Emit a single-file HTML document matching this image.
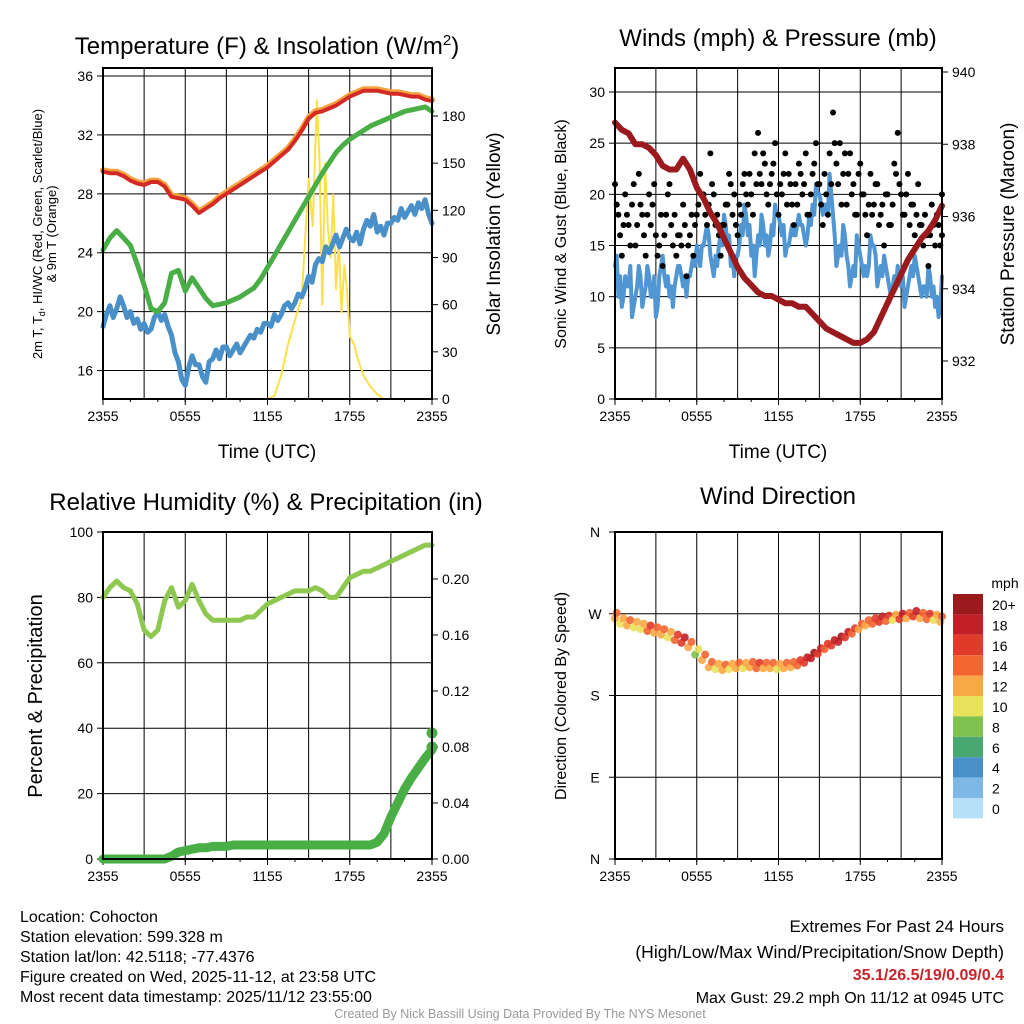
<!DOCTYPE html>
<html><head><meta charset="utf-8"><style>
body{margin:0;background:#fff;}
svg{display:block;font-family:"Liberation Sans",sans-serif;}
</style></head><body>
<svg id="s" width="1024" height="1024" viewBox="0 0 1024 1024"></svg>
<script>
// ---- data (hours since 2355 UTC) ----
const timeTicks=["2355","0555","1155","1755","2355"];
const hHalf=[0,0.5,1,1.5,2,2.5,3,3.5,4,4.5,5,5.5,6,6.5,7,7.5,8,8.5,9,9.5,10,10.5,11,11.5,12,12.5,13,13.5,14,14.5,15,15.5,16,16.5,17,17.5,18,18.5,19,19.5,20,20.5,21,21.5,22,22.5,23,23.5,24];
const tempF=[29.5,29.4,29.4,29.2,28.9,28.7,28.6,28.8,28.8,28.5,27.8,27.7,27.6,27.2,26.7,27.0,27.3,27.7,28.0,28.3,28.6,28.9,29.2,29.5,29.8,30.2,30.6,31.0,31.6,32.3,33.1,33.5,33.6,33.8,34.0,34.3,34.6,34.8,35.0,35.0,35.0,34.9,34.8,34.8,34.7,34.6,34.6,34.4,34.3];
const dewF=[24.2,25.0,25.5,25.0,24.5,23.2,21.8,20.2,20.0,20.6,22.6,22.8,21.4,22.3,21.6,20.9,20.4,20.5,20.6,20.8,21.0,21.3,21.6,22.2,23.0,23.8,24.6,25.4,26.2,27.0,27.8,28.6,29.4,30.1,30.8,31.3,31.7,32.0,32.3,32.6,32.8,33.0,33.2,33.4,33.6,33.7,33.8,33.9,33.6];
const hQuarter=[];for(let i=0;i<=96;i++)hQuarter.push(i*0.25);
const chillF=[19.0,19.8,20.4,19.6,20.2,21.0,20.4,19.6,20.0,19.2,19.5,18.8,19.2,18.6,18.8,19.6,20.0,19.4,19.8,19.0,18.4,17.2,16.6,15.4,15.0,16.2,17.0,16.4,16.4,15.6,15.2,16.6,16.8,17.4,16.8,17.6,17.6,17.0,17.4,17.8,17.2,17.6,18.0,18.4,18.2,18.8,18.6,19.2,19.2,19.0,19.8,19.4,19.8,20.4,20.6,20.2,20.6,21.2,21.0,21.6,22.4,22.0,23.2,23.6,23.4,24.4,24.0,24.6,25.2,24.4,25.0,25.6,25.0,24.8,25.4,24.6,25.6,26.2,25.8,26.6,25.4,25.8,25.2,26.0,26.0,26.4,26.2,27.0,26.4,26.8,27.2,26.6,27.4,27.0,27.6,26.6,26.0];
const solarH=[0,12,12.5,13,13.5,14,14.5,15,15.3,15.6,15.8,16.0,16.2,16.4,16.6,16.8,17.0,17.2,17.4,17.6,17.8,18.0,18.3,18.6,19.0,19.5,20.0,20.5,21,24];
const solarW=[0,0,2,15,35,50,65,140,110,190,150,60,150,110,90,130,70,100,55,85,70,40,35,25,15,8,3,0,0,0];
// winds
const sonicMph=[13,10,9,12,11,8,10,13,9,11,12,10,8,12,14,11,10,9,12,13,11,10,12,14,15,13,15,17,14,12,13,16,18,15,13,12,14,17,19,16,14,12,16,18,15,14,17,19,18,16,14,15,17,16,18,17,15,18,19,21,20,18,19,22,18,13,15,17,14,11,13,16,14,12,12,16,15,11,13,14,12,10,12,13,11,9,11,13,14,12,10,11,13,10,9,8,12];
const sonicMph2=[14,12,10,11,13,9,11,12,10,13,10,12,9,13,12,12,11,11,13,12,12,12,13,13,14,15,16,16,13,14,15,15,17,16,14,14,15,16,18,17,15,14,15,17,16,15,16,18,17,17,15,16,16,17,17,16,16,17,18,20,19,19,18,20,16,14,14,16,13,12,12,15,13,13,13,15,14,12,12,13,11,11,11,12,12,10,12,12,13,11,11,10,12,11,10,9,13];
const gustMph=[21,18,14,20,17,19,15,22,18,14,20,19,16,15,13,18,21,15,14,16,19,12,16,14,18,22,20,17,24,20,18,14,17,19,21,20,16,18,22,19,20,24,26,21,23,19,22,25,18,20,24,22,19,21,23,20,24,18,22,25,21,17,20,24,28,23,25,22,19,24,21,18,23,20,16,22,19,21,18,15,20,17,23,26,20,18,22,19,16,21,17,18,13,19,15,17,20];
const gustMph2=[19,16,17,18,15,21,17,19,16,18,17,21,14,18,16,20,17,18,16,15,17,15,18,17,19,20,18,19,21,17,16,17,19,22,18,17,19,21,20,22,18,21,22,24,20,21,23,20,21,22,19,21,17,19,22,21,18,20,23,21,19,22,18,21,25,21,19,24,22,20,18,22,20,18,19,18,21,17,19,20,17,19,22,21,18,20,17,19,18,17,15,16,16,17,18,15,16];
const pressH=hHalf;
const pressMb=[938.6,938.4,938.3,938.0,938.0,937.9,937.7,937.4,937.3,937.3,937.6,937.3,936.8,936.5,936.1,935.8,935.4,935.0,934.6,934.3,934.1,933.9,933.8,933.8,933.7,933.6,933.6,933.5,933.5,933.3,933.1,932.9,932.8,932.7,932.6,932.5,932.5,932.6,932.8,933.2,933.6,934.0,934.4,934.8,935.1,935.4,935.6,935.9,936.3];
// humidity / precip
const rhPct=[80,83,85,83,82,78,70,68,70,79,83,77,79,84,79,75,73,73,73,73,73,74,74,76,78,79,80,81,82,82,82,83,82,80,80,83,86,87,88,88,89,90,91,92,93,94,95,96,96];
const precipIn=[0,0,0,0,0,0,0,0,0,0,0.002,0.005,0.006,0.007,0.008,0.008,0.009,0.009,0.009,0.010,0.010,0.010,0.010,0.010,0.010,0.010,0.010,0.010,0.010,0.010,0.010,0.010,0.010,0.010,0.010,0.010,0.010,0.010,0.010,0.010,0.012,0.018,0.030,0.040,0.050,0.058,0.065,0.072,0.078];
// wind direction
const dirH=hHalf;
const dirDeg=[268,262,260,258,256,254,252,250,247,244,241,236,228,222,214,212,211,212,213,213,214,213,213,213,212,213,214,216,219,224,229,234,238,242,247,251,256,260,262,264,265,266,267,268,270,268,267,266,264];
const dirSpd=[12,10,12,11,10,14,13,12,11,14,16,13,8,12,12,11,13,10,12,11,12,14,13,12,11,13,12,14,16,18,17,15,16,18,17,14,13,12,14,16,15,11,17,13,16,12,14,11,12];
const cbLabels=["20+","18","16","14","12","10","8","6","4","2","0"];
const cbColors=["#9b1a1e","#c21f27","#e03a2a","#f26531","#f8a845","#e8e15a","#7fc24f","#49a86f","#4a90c8","#7db8e6","#b5e0f7"];

const NS="http://www.w3.org/2000/svg",S=document.getElementById('s');
function E(t,a,p){const e=document.createElementNS(NS,t);for(const k in a)e.setAttribute(k,a[k]);(p||S).appendChild(e);return e;}
function T(x,y,str,a){const e=E('text',Object.assign({x:x,y:y,'font-size':14,'text-anchor':'middle',fill:'#000'},a||{}));e.textContent=str;return e;}
function lin(d0,d1,r0,r1){return v=>r0+(v-d0)/(d1-d0)*(r1-r0);}
function poly(xs,ys,fx,fy,col,w,g){const pts=xs.map((h,i)=>fx(h).toFixed(1)+','+fy(ys[i]).toFixed(1)).join(' ');return E('polyline',{points:pts,fill:'none',stroke:col,'stroke-width':w,'stroke-linejoin':'round','stroke-linecap':'round'},g);}

function frame(name,x0,x1,y0,y1){
  const g=E('g',{});
  const fx=lin(0,24,x0,x1);
  for(let h=3;h<24;h+=3){const l=E('line',{x1:fx(h),x2:fx(h),y1:y0,y2:y1,stroke:'#000','stroke-width':1},g);}
  timeTicks.forEach((t,i)=>{const x=fx(i*6);E('line',{x1:x,x2:x,y1:y1,y2:y1+6,stroke:'#000'},g);const e=T(x,y1+22,t,{});g.appendChild(e);});
  for(let h=0;h<=24;h+=2){const x=fx(h);E('line',{x1:x,x2:x,y1:y1,y2:y1+3,stroke:'#000'},g);}
  return {g,fx};
}
function border(g,x0,x1,y0,y1){E('rect',{x:x0,y:y0,width:x1-x0,height:y1-y0,fill:'none',stroke:'#000','stroke-width':2},g);}
function yTicks(g,vals,fy,x,side,fmt,grid,x0,x1){vals.forEach(v=>{const y=fy(v);if(grid)E('line',{x1:x0,x2:x1,y1:y,y2:y,stroke:'#000'},g);E('line',{x1:x,x2:x+(side<0?-6:6),y1:y,y2:y,stroke:'#000'},g);const e=T(x+(side<0?-10:10),y+5,fmt(v),{'text-anchor':side<0?'end':'start'});g.appendChild(e);});}

// ---- Panel 1 ----
{const x0=103,x1=432,y0=68,y1=399;const {g,fx}=frame('temperature-panel',x0,x1,y0,y1);
 const fy=lin(14,36,400,76),fs=lin(0,180,399,116);
 yTicks(g,[16,20,24,28,32,36],fy,x0,-1,v=>v,true,x0,x1);
 yTicks(g,[0,30,60,90,120,150,180],fs,x1,1,v=>v,false);
 poly(solarH,solarW,fx,fs,'#fbe04a',2,g);
 poly(hQuarter,chillF,fx,fy,'#4a90c8',5,g);
 poly(hHalf,dewF,fx,fy,'#4aae47',5,g);
 poly(hHalf,tempF.map(v=>v+0.1),fx,fy,'#f5a340',6,g);
 poly(hHalf,tempF,fx,fy,'#d42a25',4,g);
 border(g,x0,x1,y0,y1);
 const t=T(267,54,'',{'font-size':24});t.innerHTML='Temperature (F) &amp; Insolation (W/m<tspan dy="-9" font-size="15">2</tspan><tspan dy="9">)</tspan>';
 T(267,458,'Time (UTC)',{'font-size':19}).setAttribute('y',458);
 const a=T(0,0,'',{'font-size':13,transform:'translate(42,234) rotate(-90)'});a.innerHTML='2m T, T<tspan font-size="9" dy="3">d</tspan><tspan dy="-3">, HI/WC (Red, Green, Scarlet/Blue)</tspan>';
 T(0,0,'& 9m T (Orange)',{'font-size':13,transform:'translate(56,234) rotate(-90)'});
 T(0,0,'Solar Insolation (Yellow)',{'font-size':19,transform:'translate(500,234) rotate(-90)'});
}
// ---- Panel 2 ----
{const x0=615,x1=942,y0=68,y1=399;const {g,fx}=frame('winds-panel',x0,x1,y0,y1);
 const fy=lin(0,30,399,92),fp=lin(932,940,361,72);
 yTicks(g,[0,5,10,15,20,25,30],fy,x0,-1,v=>v,true,x0,x1);
 yTicks(g,[932,934,936,938,940],fp,x1,1,v=>v,false);
 const hq2=hQuarter.map(h=>Math.min(24,h+0.125));
 const sx=[],sy=[];hQuarter.forEach((h,i)=>{sx.push(h);sy.push(sonicMph[i]);if(i<96){sx.push(hq2[i]);sy.push(sonicMph2[i]);}});
 poly(sx,sy,fx,fy,'#5096d2',4,g);
 gustMph.forEach((v,i)=>{const c=E('circle',{cx:fx(hQuarter[i]),cy:fy(v),r:3,fill:'#000'},g);});
 gustMph2.forEach((v,i)=>{const c=E('circle',{cx:fx(hq2[i]),cy:fy(v),r:3,fill:'#000'},g);});
 poly(pressH,pressMb,fx,fp,'#9b1a1e',6,g);
 border(g,x0,x1,y0,y1);
 T(778,46,'Winds (mph) & Pressure (mb)',{'font-size':24});
 T(778,458,'Time (UTC)',{'font-size':19});
 T(0,0,'Sonic Wind & Gust (Blue, Black)',{'font-size':16,transform:'translate(566,234) rotate(-90)'});
 T(0,0,'Station Pressure (Maroon)',{'font-size':19,transform:'translate(1014,234) rotate(-90)'});
}
// ---- Panel 3 ----
{const x0=103,x1=432,y0=532,y1=859;const {g,fx}=frame('humidity-panel',x0,x1,y0,y1);
 const fy=lin(0,100,859,532),fr=lin(0,0.2,859,579);
 yTicks(g,[0,20,40,60,80,100],fy,x0,-1,v=>v,true,x0,x1);
 yTicks(g,[0,0.04,0.08,0.12,0.16,0.20],fr,x1,1,v=>v.toFixed(2),false);
 poly(hHalf,rhPct,fx,fy,'#8ec850',5,g);
 poly(hHalf,precipIn,fx,fr,'#4aae47',9,g);
 [0.08,0.09].forEach(v=>{const c=E('circle',{cx:fx(24),cy:fr(v),r:5.5,fill:'#4aae47'},g);});
 border(g,x0,x1,y0,y1);
 T(266,510,'Relative Humidity (%) & Precipitation (in)',{'font-size':24});
 T(0,0,'Percent & Precipitation',{'font-size':20,transform:'translate(42,696) rotate(-90)'});
}
// ---- Panel 4 ----
{const x0=615,x1=942,y0=532,y1=859;const {g,fx}=frame('wind-direction-panel',x0,x1,y0,y1);
 const fy=lin(0,360,859,532);const names=['N','E','S','W','N'];
 [0,90,180,270,360].forEach((v,i)=>{const y=fy(v);E('line',{x1:x0,x2:x1,y1:y,y2:y,stroke:'#000'},g);E('line',{x1:x0,x2:x0-6,y1:y,y2:y,stroke:'#000'},g);T(x0-20,y+5,names[i],{});});
 const col=s=>cbColors[Math.max(0,10-Math.min(10,Math.floor(s/2)))];
 dirDeg.forEach((d,i)=>{[-0.12,0.12].forEach((o,k)=>{const c=E('circle',{cx:fx(Math.min(24,Math.max(0,dirH[i]+o))),cy:fy(d+(k?3:-3)),r:4,fill:col(dirSpd[i]+(k?2:0)),opacity:0.9},g);});});
 border(g,x0,x1,y0,y1);
 T(778,504,'Wind Direction',{'font-size':24});
 T(0,0,'Direction (Colored By Speed)',{'font-size':16,transform:'translate(566,696) rotate(-90)'});
 const lg=E('g',{});
 T(1005,588,'mph',{'font-size':14});
 cbColors.forEach((c,i)=>{E('rect',{x:953,y:594+i*20.4,width:30,height:20.4,fill:c},lg);const t=T(992,610+i*20.4,cbLabels[i],{'text-anchor':'start','font-size':14});});
}
// ---- footer ----
const L=["Location: Cohocton","Station elevation: 599.328 m","Station lat/lon: 42.5118; -77.4376","Figure created on Wed, 2025-11-12, at 23:58 UTC","Most recent data timestamp: 2025/11/12 23:55:00"];
L.forEach((s,i)=>T(20,922+i*20,s,{'text-anchor':'start','font-size':16}));
T(1004,932,'Extremes For Past 24 Hours',{'text-anchor':'end','font-size':17});
T(1004,958,'(High/Low/Max Wind/Precipitation/Snow Depth)',{'text-anchor':'end','font-size':17.5});
T(1004,980,'35.1/26.5/19/0.09/0.4',{'text-anchor':'end','font-size':16,'font-weight':'bold',fill:'#c8242a'});
T(1004,1003,'Max Gust: 29.2 mph On 11/12 at 0945 UTC',{'text-anchor':'end','font-size':16});
T(520,1018,'Created By Nick Bassill Using Data Provided By The NYS Mesonet',{'font-size':12.5,fill:'#999'});
</script>
</body></html>
